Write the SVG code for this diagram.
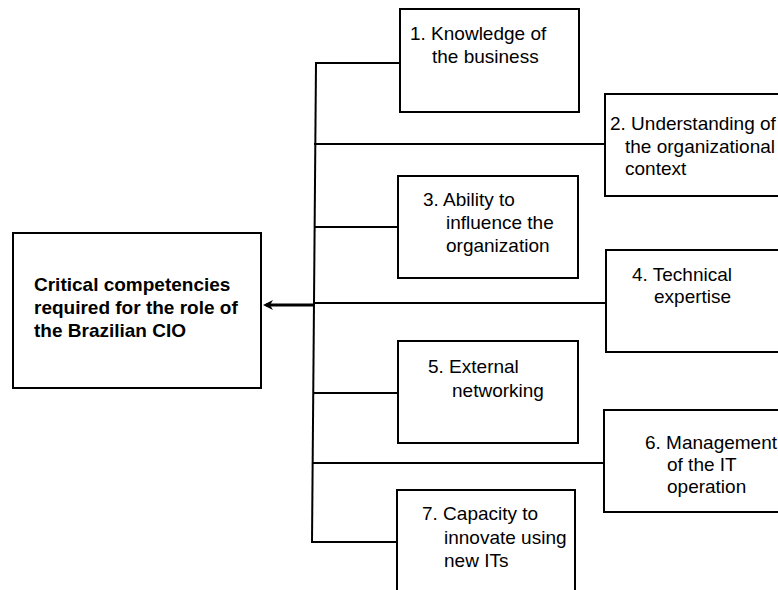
<svg xmlns="http://www.w3.org/2000/svg" width="778" height="590" viewBox="0 0 778 590">
<defs>
<style>
.box{fill:#fff;stroke:#000;stroke-width:2}
.t{font-family:"Liberation Sans",Arial,sans-serif;font-size:19px;fill:#000}
.b{font-weight:bold}
.ln{fill:none;stroke:#000;stroke-width:2}
</style>
<marker id="ah" markerWidth="12" markerHeight="12" refX="7" refY="6" orient="auto" markerUnits="userSpaceOnUse">
<path d="M0,1 L10,6 L0,11 L3,6 Z" fill="#000"/>
</marker>
</defs>
<rect width="778" height="590" fill="#fff"/>
<g id="connectors">
<path class="ln" d="M316,63 L312,542"/>
<path class="ln" d="M315,63 H400"/>
<path class="ln" d="M314,144 H605"/>
<path class="ln" d="M314,227 H398"/>
<path class="ln" d="M313,303 H606"/>
<path class="ln" d="M313,393 H398"/>
<path class="ln" d="M313,463 H604"/>
<path class="ln" d="M311,542 H397"/>
<path fill="none" stroke="#000" stroke-width="3" d="M313,305 H266" marker-end="url(#ah)"/>
</g>
<g id="main">
<rect class="box" x="13" y="233" width="248" height="155"/>
<text class="t b" x="34" y="291">Critical competencies</text>
<text class="t b" x="34" y="314">required for the role of</text>
<text class="t b" x="34" y="337">the Brazilian CIO</text>
</g>
<g id="n1">
<rect class="box" x="400" y="9" width="179" height="103"/>
<text class="t" x="410" y="40">1. Knowledge of</text>
<text class="t" x="432" y="63">the business</text>
</g>
<g id="n2">
<rect class="box" x="605" y="94" width="185" height="102"/>
<text class="t" x="610" y="130">2. Understanding of</text>
<text class="t" x="625" y="153">the organizational</text>
<text class="t" x="625" y="175">context</text>
</g>
<g id="n3">
<rect class="box" x="398" y="176" width="180" height="102"/>
<text class="t" x="423" y="206">3. Ability to</text>
<text class="t" x="446" y="229">influence the</text>
<text class="t" x="446" y="252">organization</text>
</g>
<g id="n4">
<rect class="box" x="606" y="250" width="185" height="102"/>
<text class="t" x="632" y="281">4. Technical</text>
<text class="t" x="654" y="303">expertise</text>
</g>
<g id="n5">
<rect class="box" x="398" y="341" width="180" height="102"/>
<text class="t" x="428" y="373">5. External</text>
<text class="t" x="452" y="397">networking</text>
</g>
<g id="n6">
<rect class="box" x="604" y="410" width="185" height="102"/>
<text class="t" x="645" y="449">6. Management</text>
<text class="t" x="667" y="471">of the IT</text>
<text class="t" x="667" y="493">operation</text>
</g>
<g id="n7">
<rect class="box" x="397" y="490" width="178" height="110"/>
<text class="t" x="422" y="520">7. Capacity to</text>
<text class="t" x="444" y="544">innovate using</text>
<text class="t" x="444" y="567">new ITs</text>
</g>
</svg>
